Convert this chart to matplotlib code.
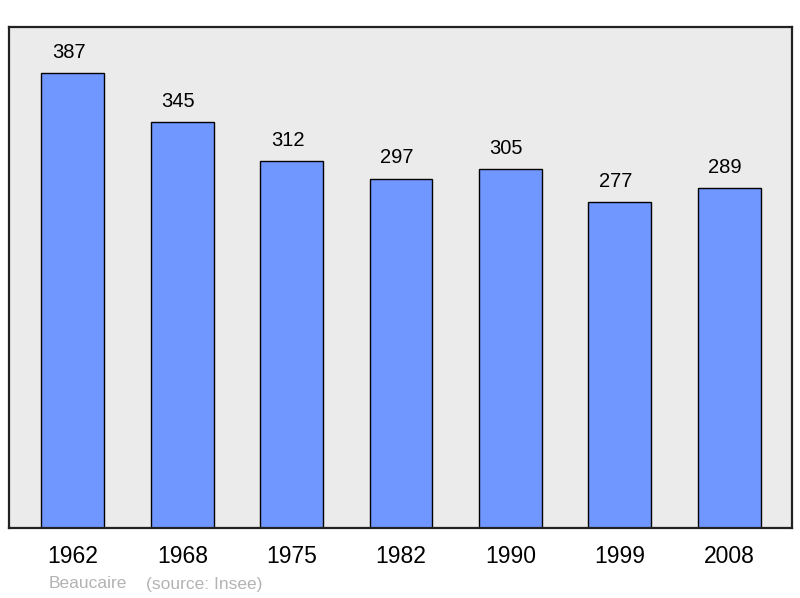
import matplotlib.pyplot as plt

years = ["1962", "1968", "1975", "1982", "1990", "1999", "2008"]
population = [387, 345, 312, 297, 305, 277, 289]
town = "Beaucaire"
source = "(source: Insee)"

plt.rcParams['font.family'] = ['Liberation Sans', 'DejaVu Sans']

W, H = 800, 598
fig = plt.figure(figsize=(W / 100, H / 100), dpi=100)
ax = fig.add_axes([9 / W, (H - 528) / H, 783 / W, 501 / H])
ax.set_facecolor('#ebebeb')

xs = list(range(len(years)))
bars = ax.bar(xs, population, width=0.576, color='#7097ff',
              edgecolor='black', linewidth=1.0, zorder=2)
for x, v in zip(xs, population):
    ax.annotate(str(v), xy=(x, v), xytext=(-3, 15), textcoords='offset points',
                ha='center', va='center', fontsize=14.5)

ax.set_xlim(-0.585, 6.576)
ax.set_ylim(0, 426)
ax.set_xticks(xs)
ax.set_xticklabels(years, fontsize=16.5)
ax.tick_params(axis='x', length=0, pad=12)
ax.set_yticks([])
for s in ax.spines.values():
    s.set_linewidth(1.6)
    s.set_color('#222222')

fig.text(49 / W, 1 - 584 / H, town, color='#b3b3b3', fontsize=12.5,
         ha='left', va='center')
fig.text(146 / W, 1 - 584 / H, source, color='#b3b3b3', fontsize=12.5,
         ha='left', va='center')

fig.savefig("out.png", dpi=100)
